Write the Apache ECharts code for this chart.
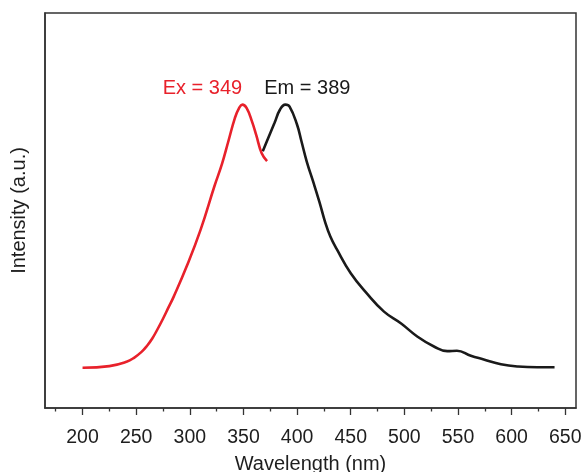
<!DOCTYPE html>
<html>
<head>
<meta charset="utf-8">
<script src="https://cdn.jsdelivr.net/npm/echarts@6/dist/echarts.min.js"></script>
<style>
  html, body { margin: 0; padding: 0; background: #fff; }
  #chart { width: 584px; height: 472px; }
</style>
</head>
<body>
<div id="chart"></div>
<script>
// Excitation spectrum (red)
const exWavelength = [200, 225, 241, 248, 255, 260, 265, 270, 275, 280, 285, 297, 310, 323, 330, 336, 342, 346, 349, 353, 358, 362, 367, 372];
const exIntensity  = [102, 106, 117, 127, 142, 157, 176, 200, 226, 254, 282, 358, 451, 562, 618, 676, 734, 760, 768, 759, 725, 690, 645, 625];

// Emission spectrum (black)
const emWavelength = [368, 373, 379, 384, 389, 393, 400, 404, 409, 415, 421, 426, 431, 437, 450, 465, 481, 497, 512, 528, 540, 549, 562, 574, 590, 606, 624, 640];
const emIntensity  = [650, 683, 722, 755, 768, 763, 717, 676, 624, 573, 520, 472, 434, 402, 341, 290, 244, 214, 181, 155, 144, 145, 132, 123, 111, 105, 103, 103];

// Peak annotations
const exPeak = { wavelength: 349, intensity: 768, text: 'Ex = 349' };
const emPeak = { wavelength: 389, intensity: 768, text: 'Em = 389' };

// Axis ticks
const majorTicks = [200, 250, 300, 350, 400, 450, 500, 550, 600, 650];
const minorTicks = [175, 225, 275, 325, 375, 425, 475, 525, 575, 625];

const FONT = '"Liberation Sans", Arial, Helvetica, sans-serif';
const INK = '#1e1e1e';

function pairs(xs, ys) { return xs.map((x, i) => [x, ys[i]]); }

const chart = echarts.init(document.getElementById('chart'), null, { renderer: 'canvas' });

chart.setOption({
  animation: false,
  backgroundColor: '#fff',
  grid: {
    left: 45, right: 8, top: 13, bottom: 64,
    outerBoundsMode: 'none', containLabel: false,
    show: true, borderColor: '#333', borderWidth: 1.5, backgroundColor: 'transparent'
  },
  xAxis: [
    {
      type: 'value', min: 165, max: 660,
      name: 'Wavelength (nm)', nameLocation: 'middle', nameGap: 46,
      nameTextStyle: { fontFamily: FONT, fontSize: 20, color: INK },
      axisLine: { show: true, lineStyle: { color: '#333', width: 1.5 } },
      axisTick: { show: true, inside: false, length: 7, lineStyle: { color: '#333', width: 1.3 }, customValues: majorTicks },
      axisLabel: { show: true, margin: 20, fontFamily: FONT, fontSize: 19.5, color: INK, customValues: majorTicks },
      splitLine: { show: false }
    },
    {
      type: 'value', min: 165, max: 660, position: 'bottom',
      axisLine: { show: false },
      axisTick: { show: true, inside: false, length: 3.5, lineStyle: { color: '#333', width: 1.3 }, customValues: minorTicks },
      axisLabel: { show: false },
      splitLine: { show: false }
    }
  ],
  yAxis: {
    type: 'value', min: 0, max: 1000,
    name: 'Intensity (a.u.)', nameLocation: 'middle', nameGap: 16,
    nameTextStyle: { fontFamily: FONT, fontSize: 20, color: INK },
    axisLine: { show: true, lineStyle: { color: '#333', width: 1.5 } },
    axisTick: { show: false },
    axisLabel: { show: false },
    splitLine: { show: false }
  },
  series: [
    {
      type: 'line', name: 'Em', data: pairs(emWavelength, emIntensity),
      smooth: 0.45, showSymbol: false, symbol: 'none',
      lineStyle: { color: '#1a1a1a', width: 2.6 },
      markPoint: {
        symbol: 'circle', symbolSize: 0, silent: true,
        data: [{ coord: [emPeak.wavelength, emPeak.intensity] }],
        label: {
          show: true, formatter: emPeak.text, position: 'top', distance: 6, offset: [22, 0],
          fontFamily: FONT, fontSize: 20, color: '#1a1a1a'
        }
      }
    },
    {
      type: 'line', name: 'Ex', data: pairs(exWavelength, exIntensity),
      smooth: 0.45, showSymbol: false, symbol: 'none',
      lineStyle: { color: '#e8212b', width: 2.6 },
      markPoint: {
        symbol: 'circle', symbolSize: 0, silent: true,
        data: [{ coord: [exPeak.wavelength, exPeak.intensity] }],
        label: {
          show: true, formatter: exPeak.text, position: 'top', distance: 6, offset: [-40, 0],
          fontFamily: FONT, fontSize: 20, color: '#e8212b'
        }
      }
    }
  ]
});
</script>
</body>
</html>
